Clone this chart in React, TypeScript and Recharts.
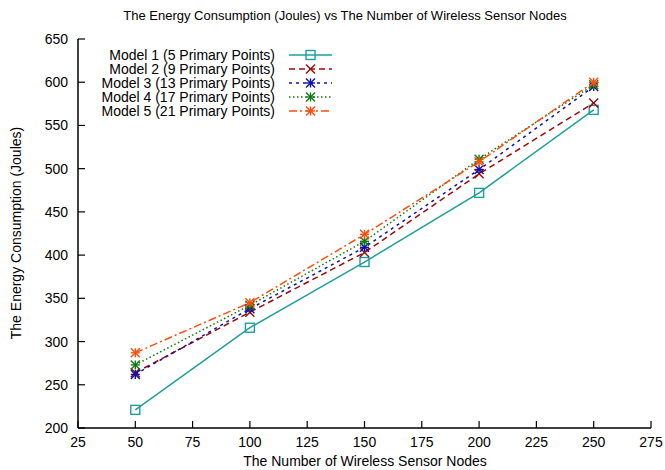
import React from 'react';
import { LineChart, Line, XAxis, YAxis, Legend } from 'recharts';

const nodes = [50, 100, 150, 200, 250];
const model1 = [221, 316, 392, 472, 568];
const model2 = [264, 334, 403, 494, 576];
const model3 = [262, 338, 409, 499, 595];
const model4 = [273, 342, 416, 511, 597];
const model5 = [287, 345, 424, 508, 600];

const xTicks = [25, 50, 75, 100, 125, 150, 175, 200, 225, 250, 275];
const yTicks = [200, 250, 300, 350, 400, 450, 500, 550, 600, 650];

const series = [
  { key: 'm1', name: 'Model 1 (5 Primary Points)', values: model1, color: '#1f9e9e', dash: undefined, marker: 'square' },
  { key: 'm2', name: 'Model 2 (9 Primary Points)', values: model2, color: '#9b0a0a', dash: '6 4', marker: 'cross' },
  { key: 'm3', name: 'Model 3 (13 Primary Points)', values: model3, color: '#1010a8', dash: '3 4', marker: 'star' },
  { key: 'm4', name: 'Model 4 (17 Primary Points)', values: model4, color: '#117a11', dash: '1.5 2.5', marker: 'star' },
  { key: 'm5', name: 'Model 5 (21 Primary Points)', values: model5, color: '#ff4f10', dash: '8 3 2 3', marker: 'star' },
];

const data = nodes.map((n, i) => {
  const row: any = { n };
  series.forEach((s) => (row[s.key] = s.values[i]));
  return row;
});

const FONT = '"Liberation Sans", Arial, Helvetica, sans-serif';

function Marker({ kind, cx, cy, color }: any) {
  const r = 4.5;
  if (kind === 'square') {
    return <rect x={cx - r} y={cy - r} width={r * 2} height={r * 2} fill="none" stroke={color} strokeWidth={1.4} />;
  }
  const lines = [
    [-r, -r, r, r],
    [-r, r, r, -r],
  ];
  if (kind === 'star') {
    lines.push([-r, 0, r, 0], [0, -r, 0, r]);
  }
  return (
    <g>
      {lines.map((l, i) => (
        <line key={i} x1={cx + l[0]} y1={cy + l[1]} x2={cx + l[2]} y2={cy + l[3]} stroke={color} strokeWidth={1.4} />
      ))}
    </g>
  );
}

const BottomTick = ({ x, y, payload }: any) => (
  <g>
    <line x1={x} x2={x} y1={y} y2={y - 7} stroke="#000" strokeWidth={1.2} />
    <text x={x} y={y + 8} dy="0.75em" textAnchor="middle" fontSize={14} fontFamily={FONT} fill="#000">
      {payload.value}
    </text>
  </g>
);
const TopTick = ({ x, y }: any) => <line x1={x} x2={x} y1={y} y2={y + 7} stroke="#000" strokeWidth={1.2} />;
const LeftTick = ({ x, y, payload }: any) => (
  <g>
    <line x1={x} x2={x + 7} y1={y} y2={y} stroke="#000" strokeWidth={1.2} />
    <text x={x - 10} y={y} dy="0.36em" textAnchor="end" fontSize={14} fontFamily={FONT} fill="#000">
      {payload.value}
    </text>
  </g>
);
const RightTick = ({ x, y }: any) => <line x1={x} x2={x - 7} y1={y} y2={y} stroke="#000" strokeWidth={1.2} />;

function LegendBox() {
  return (
    <div style={{ fontFamily: FONT, fontSize: 14, lineHeight: '14px' }}>
      {series.map((s) => (
        <div key={s.key} style={{ display: 'flex', alignItems: 'center', height: 14 }}>
          <span style={{ width: 185, textAlign: 'right', whiteSpace: 'nowrap' }}>{s.name}</span>
          <svg width={58} height={14} style={{ marginLeft: 14 }}>
            <line x1={0} x2={43} y1={7} y2={7} stroke={s.color} strokeWidth={1.5} strokeDasharray={s.dash} />
            <Marker kind={s.marker} cx={21.5} cy={7} color={s.color} />
          </svg>
        </div>
      ))}
    </div>
  );
}

export default function App() {
  return (
    <div style={{ position: 'absolute', left: 0, top: 0, width: 665, height: 470, background: '#fff' }}>
      <div
        style={{
          position: 'absolute',
          top: 8,
          left: 0,
          width: 665,
          textAlign: 'center',
          fontFamily: FONT,
          fontSize: 13,
          paddingLeft: 25,
          boxSizing: 'border-box',
        }}
      >
        The Energy Consumption (Joules) vs The Number of Wireless Sensor Nodes
      </div>
      <LineChart width={665} height={470} data={data} margin={{ top: 39, right: 14, bottom: 0, left: 0 }}>
        <XAxis
          dataKey="n"
          type="number"
          domain={[25, 275]}
          ticks={xTicks}
          interval={0}
          height={42}
          tickSize={0}
          tickMargin={0}
          tickLine={false}
          axisLine={{ stroke: '#000', strokeWidth: 1.5 }}
          tick={<BottomTick />}
          label={{
            content: () => (
              <text x={365} y={466} textAnchor="middle" fontSize={14} fontFamily={FONT} fill="#000">
                The Number of Wireless Sensor Nodes
              </text>
            ),
          }}
        />
        <XAxis
          xAxisId="top"
          orientation="top"
          dataKey="n"
          type="number"
          domain={[25, 275]}
          ticks={xTicks}
          interval={0}
          height={0}
          tickSize={0}
          tickMargin={0}
          tickLine={false}
          axisLine={{ stroke: '#000', strokeWidth: 1.5 }}
          tick={<TopTick />}
        />
        <YAxis
          type="number"
          domain={[200, 650]}
          ticks={yTicks}
          interval={0}
          width={78}
          tickSize={0}
          tickMargin={0}
          tickLine={false}
          axisLine={{ stroke: '#000', strokeWidth: 1.5 }}
          tick={<LeftTick />}
          label={{
            content: () => (
              <text
                x={16}
                y={233}
                transform="rotate(-90 16 233)"
                dy="0.36em"
                textAnchor="middle"
                fontSize={14}
                fontFamily={FONT}
                fill="#000"
              >
                The Energy Consumption (Joules)
              </text>
            ),
          }}
        />
        <YAxis
          yAxisId="right"
          orientation="right"
          type="number"
          domain={[200, 650]}
          ticks={yTicks}
          interval={0}
          width={0}
          tickSize={0}
          tickMargin={0}
          tickLine={false}
          axisLine={{ stroke: '#000', strokeWidth: 1.5 }}
          tick={<RightTick />}
        />
        <Legend
          layout="vertical"
          align="center"
          verticalAlign="middle"
          wrapperStyle={{ left: 90, top: 48, width: 'auto' }}
          content={() => <LegendBox />}
        />
        {series.map((s) => (
          <Line
            key={s.key}
            dataKey={s.key}
            name={s.name}
            type="linear"
            stroke={s.color}
            strokeWidth={1.5}
            strokeDasharray={s.dash}
            isAnimationActive={false}
            dot={(p: any) => <Marker key={`${s.key}-${p.index}`} kind={s.marker} cx={p.cx} cy={p.cy} color={s.color} />}
            activeDot={false}
          />
        ))}
      </LineChart>
    </div>
  );
}
